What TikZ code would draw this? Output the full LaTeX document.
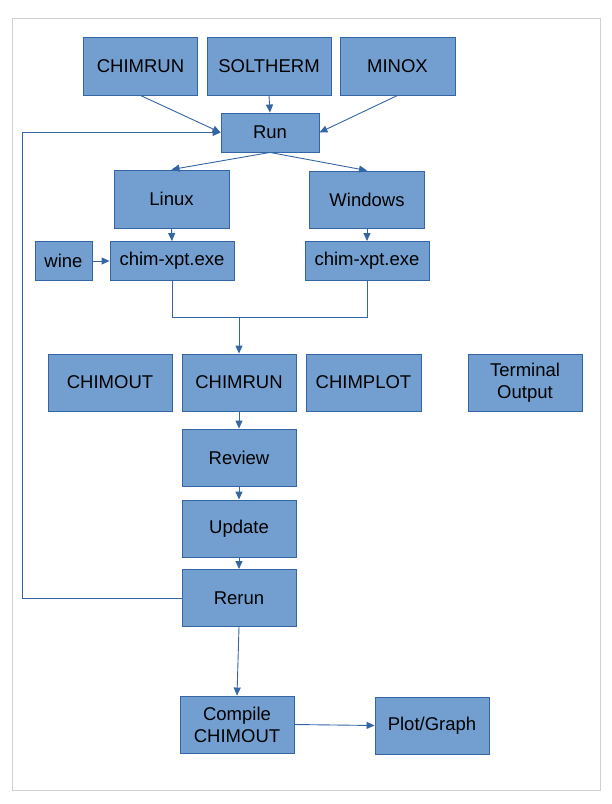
\documentclass[tikz,border=0pt]{standalone}
\usepackage{fontspec}
\setmainfont{Liberation Sans}
\usetikzlibrary{arrows.meta,calc}
\definecolor{boxfill}{HTML}{729FCF}
\definecolor{boxline}{HTML}{3465A4}
\definecolor{framec}{HTML}{D0D0D0}
\tikzset{
  box/.style={draw=boxline, fill=boxfill, line width=0.9pt, inner sep=0pt, anchor=center,
    align=center, font=\fontsize{18.5}{22}\selectfont, text=black},
  conn/.style={draw=boxline, line width=0.9pt},
  arr/.style={conn, -{Triangle[length=8pt,width=7pt]}},
}
\begin{document}
\begin{tikzpicture}[x=1pt,y=-1pt]
\useasboundingbox (0,0) rectangle (612,804);
\draw[framec, line width=1pt] (12,18) rectangle (600,790);
% top row
\node[box, minimum width=114pt, minimum height=58pt] (chimrunT) at (140.5,66) {CHIMRUN};
\node[box, minimum width=124pt, minimum height=58pt] (soltherm) at (269,66) {SOLTHERM};
\node[box, minimum width=115pt, minimum height=58pt] (minox) at (397.5,66) {MINOX};
\node[box, minimum width=98pt, minimum height=39pt] (run) at (270,132.5) {Run};
\node[box, minimum width=115pt, minimum height=58pt] (linux) at (171.5,199) {Linux};
\node[box, minimum width=115pt, minimum height=57pt] (windows) at (367,199.5) {Windows};
\node[box, minimum width=57pt, minimum height=39pt] (wine) at (63.5,261) {wine};
\node[box, minimum width=124pt, minimum height=39pt] (chimL) at (172,261) {chim-xpt.exe};
\node[box, minimum width=124pt, minimum height=39pt] (chimR) at (367,261) {chim-xpt.exe};
% middle row
\node[box, minimum width=124pt, minimum height=57pt] (chimout) at (110,382.5) {CHIMOUT};
\node[box, minimum width=114pt, minimum height=57pt] (chimrunM) at (239,382.5) {CHIMRUN};
\node[box, minimum width=115pt, minimum height=57pt] (chimplot) at (363.5,382.5) {CHIMPLOT};
\node[box, minimum width=114pt, minimum height=57pt] (terminal) at (525,382.5) {Terminal\\Output};
\node[box, minimum width=114pt, minimum height=57pt] (review) at (239,457.5) {Review};
\node[box, minimum width=114pt, minimum height=57pt] (update) at (239,528.5) {Update};
\node[box, minimum width=114pt, minimum height=57pt] (rerun) at (239,598) {Rerun};
\node[box, minimum width=114pt, minimum height=57pt] (compile) at (237,724.5) {Compile\\CHIMOUT};
\node[box, minimum width=114pt, minimum height=57pt] (plot) at (432,725.5) {Plot/Graph};
% connectors
\draw[arr] (chimrunT.south) -- (run.west);
\draw[arr] (soltherm.south) -- (run.north);
\draw[arr] (minox.south) -- (run.east);
\draw[arr] (run.south) -- (linux.north);
\draw[arr] (run.south) -- (windows.north);
\draw[arr] (linux.south) -- (chimL.north);
\draw[arr] (windows.south) -- (chimR.north);
\draw[arr] (wine.east) -- (chimL.west);
\coordinate (jL) at (chimL.south |- 0,317.5);
\coordinate (jR) at (chimR.south |- 0,317.5);
\coordinate (jM) at (chimrunM.north |- 0,317.5);
\draw[conn] (chimL.south) -- (jL) -- (jR) -- (chimR.south);
\draw[arr] (jM) -- (chimrunM.north);
\draw[arr] (chimrunM.south) -- (review.north);
\draw[arr] (review.south) -- (update.north);
\draw[arr] (update.south) -- (rerun.north);
\coordinate (fb) at (22,598);
\draw[arr] (rerun.west) -- (fb) |- (run.west);
\draw[arr] (rerun.south) -- (compile.north);
\draw[arr] (compile.east) -- (plot.west);
\end{tikzpicture}
\end{document}
